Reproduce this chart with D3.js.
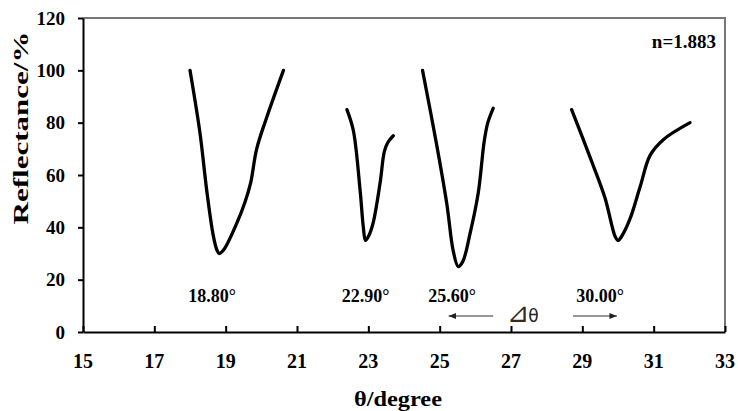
<!DOCTYPE html>
<html>
<head>
<meta charset="utf-8">
<script src="https://cdn.jsdelivr.net/npm/d3@7/dist/d3.min.js"></script>
<style>
  html, body { margin: 0; padding: 0; background: #fff; }
  svg { display: block; }
  .lbl { font-family: "Liberation Serif", "Times New Roman", serif; font-weight: bold; }
</style>
</head>
<body>
<div id="chart"></div>
<script>
// Reflectance vs incidence angle, four resonance dips (n = 1.883)

const xTicks = [15, 17, 19, 21, 23, 25, 27, 29, 31, 33];
const yTicks = [0, 20, 40, 60, 80, 100, 120];

// [angle (deg), reflectance (%)]
const dip1 = [[18.0, 100], [18.28, 76], [18.47, 54], [18.65, 37], [18.75, 31.5], [18.82, 30], [18.95, 31.5], [19.31, 41.5], [19.55, 50], [19.7, 57], [19.87, 70], [20.15, 82], [20.62, 100]];
const dip2 = [[22.4, 85], [22.58, 77], [22.77, 54], [22.86, 40], [22.92, 35], [23.02, 37], [23.14, 42], [23.33, 57], [23.45, 69], [23.55, 72.5], [23.7, 75]];
const dip3 = [[24.52, 100], [24.91, 72], [25.2, 49], [25.38, 31], [25.52, 25], [25.65, 27], [25.85, 37.5], [26.08, 53], [26.25, 73], [26.35, 80], [26.5, 85.5]];
const dip4 = [[28.7, 85], [29.21, 67], [29.63, 51.5], [29.92, 36.5], [30.0, 35], [30.1, 36.5], [30.33, 43], [30.62, 55.5], [30.9, 67.5], [31.27, 73.5], [32.02, 80]];
const dips = [dip1, dip2, dip3, dip4];

// peak annotations: text and angle where the label is centred
const peakLabels = ['18.80°', '22.90°', '25.60°', '30.00°'];
const peakLabelAt = [18.62, 22.92, 25.35, 29.5];

// shift arrows (from, to) in degrees
const shiftArrows = [[26.5, 25.25], [28.74, 29.97]];

const W = 738, H = 411;
const M = { top: 18, right: 13, bottom: 79, left: 83 };

const x = d3.scaleLinear().domain([15, 33]).range([M.left, W - M.right]);
const y = d3.scaleLinear().domain([0, 120]).range([H - M.bottom, M.top]);

const svg = d3.select('#chart').append('svg')
  .attr('width', W)
  .attr('height', H);

const defs = svg.append('defs');
defs.append('marker')
  .attr('id', 'arr')
  .attr('viewBox', '0 0 10 8')
  .attr('refX', 10)
  .attr('refY', 4)
  .attr('markerWidth', 8)
  .attr('markerHeight', 6)
  .attr('markerUnits', 'userSpaceOnUse')
  .attr('orient', 'auto')
  .append('path')
  .attr('d', 'M0 0 L10 4 L0 8 Z')
  .attr('fill', '#222');

// frame: top and right in grey
svg.append('path')
  .attr('d', 'M' + x(15) + ' ' + y(120) + ' H' + x(33) + ' V' + y(0))
  .attr('fill', 'none')
  .attr('stroke', '#777')
  .attr('stroke-width', 2);

// x axis, ticks pointing inward (labels drawn separately)
svg.append('g')
  .attr('transform', 'translate(0,' + y(0) + ')')
  .attr('stroke-width', 2)
  .call(d3.axisBottom(x).tickValues(xTicks).tickSizeInner(-6).tickSizeOuter(0).tickFormat(function() { return ''; }));

// y axis, ticks outward
svg.append('g')
  .attr('transform', 'translate(' + x(15) + ',0)')
  .attr('stroke-width', 2)
  .call(d3.axisLeft(y).tickValues(yTicks).tickSizeInner(5).tickSizeOuter(0).tickFormat(function() { return ''; }));

svg.append('g').selectAll('text')
  .data(xTicks)
  .join('text')
  .attr('class', 'lbl')
  .attr('x', function(d) { return x(d); })
  .attr('y', y(0) + 36)
  .attr('text-anchor', 'middle')
  .attr('font-size', 20)
  .text(function(d) { return d; });

svg.append('g').selectAll('text')
  .data(yTicks)
  .join('text')
  .attr('class', 'lbl')
  .attr('x', x(15) - 18)
  .attr('y', function(d) { return y(d) + 6.5; })
  .attr('text-anchor', 'end')
  .attr('font-size', 19)
  .text(function(d) { return d; });

// curves
const line = d3.line()
  .x(function(d) { return x(d[0]); })
  .y(function(d) { return y(d[1]); })
  .curve(d3.curveCatmullRom.alpha(0.5));

svg.append('g').selectAll('path')
  .data(dips)
  .join('path')
  .attr('d', line)
  .attr('fill', 'none')
  .attr('stroke', '#000')
  .attr('stroke-width', 3.3)
  .attr('stroke-linejoin', 'round')
  .attr('stroke-linecap', 'round');

// peak labels
svg.append('g').selectAll('text')
  .data(peakLabels)
  .join('text')
  .attr('class', 'lbl')
  .attr('x', function(d, i) { return x(peakLabelAt[i]); })
  .attr('y', y(0) - 30)
  .attr('text-anchor', 'middle')
  .attr('font-size', 18)
  .text(function(d) { return d; });

// shift arrows and delta-theta
svg.append('g').selectAll('line')
  .data(shiftArrows)
  .join('line')
  .attr('x1', function(d) { return x(d[0]); })
  .attr('x2', function(d) { return x(d[1]); })
  .attr('y1', y(0) - 16)
  .attr('y2', y(0) - 16)
  .attr('stroke', '#333')
  .attr('stroke-width', 1.2)
  .attr('marker-end', 'url(#arr)');

const dt = svg.append('text')
  .attr('x', x(26.88))
  .attr('y', y(0) - 10)
  .attr('font-family', '"DejaVu Sans", Arial, sans-serif')
  .attr('fill', '#222');
dt.append('tspan').attr('font-size', 27).attr('fill', '#3a2a1c').text('⊿');
dt.append('tspan').attr('font-size', 17).attr('dx', -1).text('θ');

// n label
svg.append('text')
  .attr('class', 'lbl')
  .attr('x', W - 22)
  .attr('y', 48)
  .attr('text-anchor', 'end')
  .attr('font-size', 19)
  .text('n=1.883');

// axis titles
svg.append('text')
  .attr('class', 'lbl')
  .attr('x', 398)
  .attr('y', 406)
  .attr('text-anchor', 'middle')
  .attr('font-size', 21)
  .attr('textLength', 88)
  .attr('lengthAdjust', 'spacingAndGlyphs')
  .text('θ/degree');

svg.append('text')
  .attr('class', 'lbl')
  .attr('transform', 'translate(28,128) rotate(-90)')
  .attr('text-anchor', 'middle')
  .attr('font-size', 22)
  .attr('textLength', 193)
  .attr('lengthAdjust', 'spacingAndGlyphs')
  .text('Reflectance/%');
</script>
</body>
</html>
